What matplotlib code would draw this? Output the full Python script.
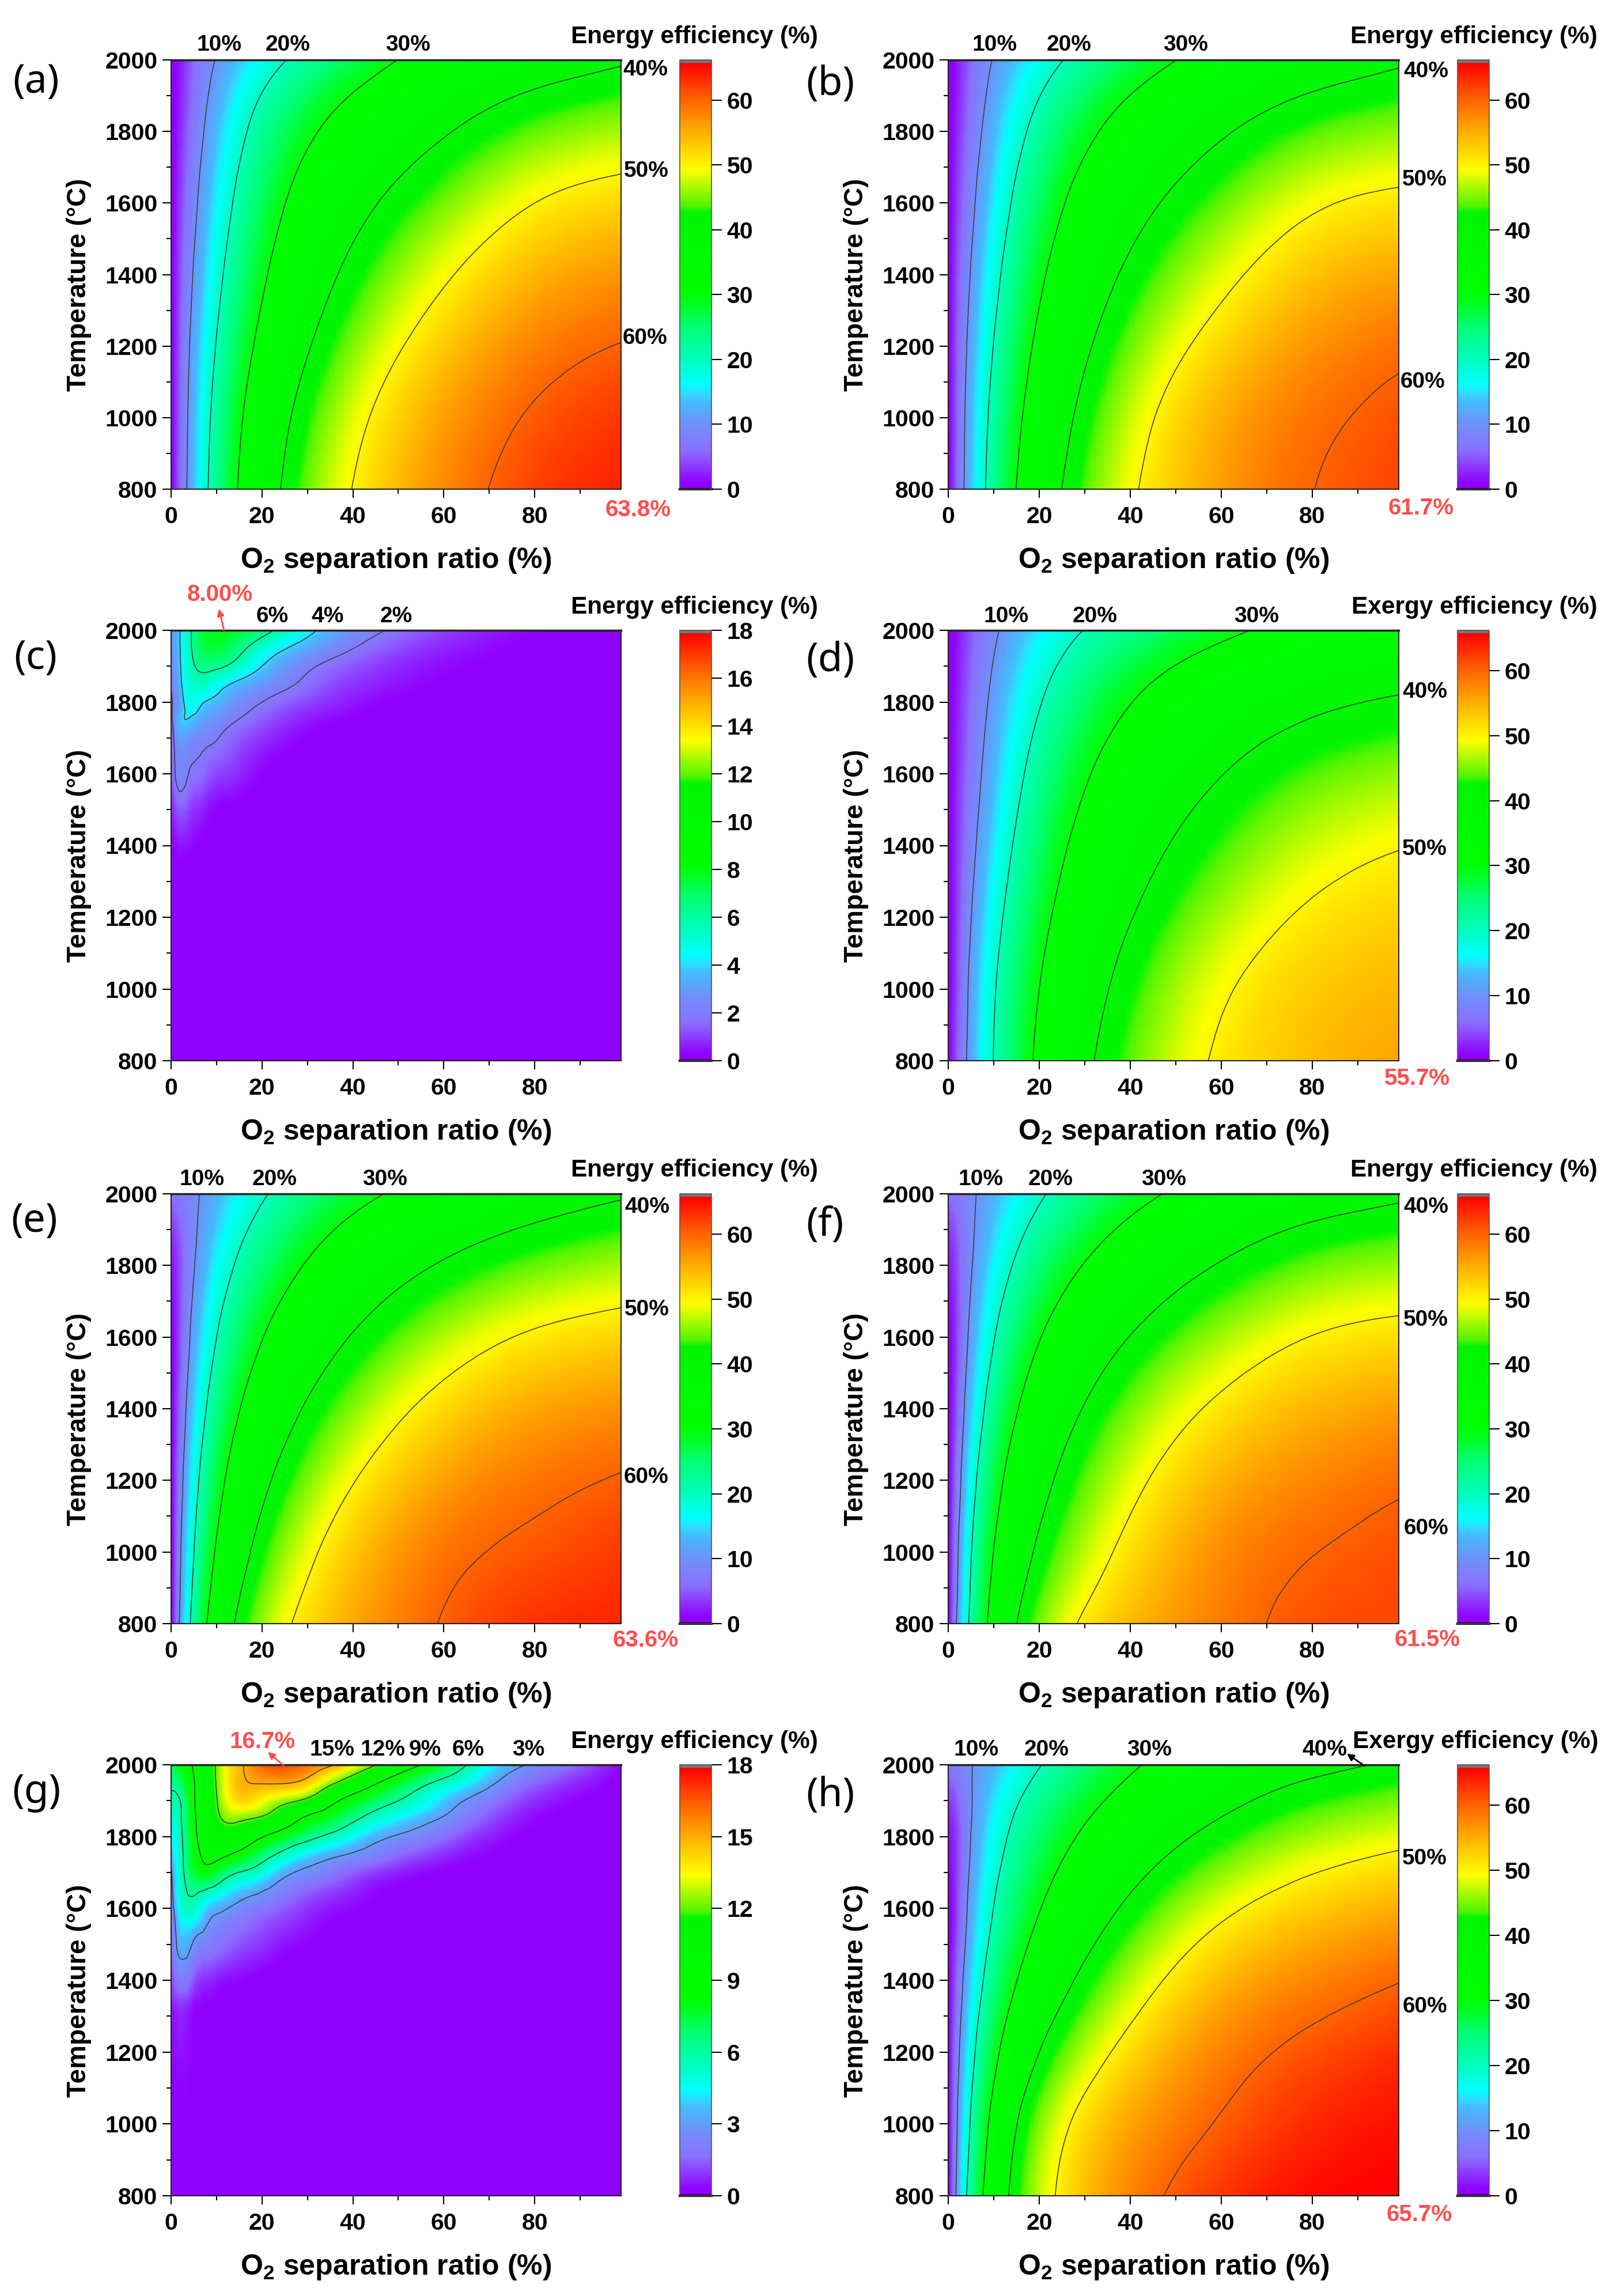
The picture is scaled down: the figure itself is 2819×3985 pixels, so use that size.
import numpy as np
from matplotlib import pyplot as plt
from matplotlib.colors import LinearSegmentedColormap, Normalize
from matplotlib.tri import Triangulation, UniformTriRefiner

plt.rcParams['font.family'] = ['Liberation Sans', 'DejaVu Sans']
plt.rcParams['mathtext.fontset'] = 'custom'
plt.rcParams['mathtext.bf'] = 'Liberation Sans:bold'
plt.rcParams['mathtext.rm'] = 'Liberation Sans:bold'

W, H = 2819, 3985

# grid of the smooth panels
x_ratio = [0, 2, 4, 7, 10, 15, 20, 25, 30, 40, 50, 60, 80, 99]
t_rows = [800, 1000, 1200, 1400, 1600, 1800, 1900, 2000]

eff_a = [
    [0, 6, 11.5, 18, 23, 30.5, 36, 41, 44.5, 50.3, 54.3, 57.5, 62, 63.8],
    [0, 5.6, 11, 17, 22, 29.3, 34.6, 39, 42.3, 48, 52, 55.7, 60.5, 62.5],
    [0, 5.2, 10.2, 15.5, 20, 26.8, 31.5, 35.8, 40, 45.8, 50.1, 53.5, 58.2, 60.3],
    [0, 4.4, 8.8, 14, 17.8, 24.2, 29.3, 33, 36.2, 41.5, 45.5, 49.3, 54, 56.5],
    [0, 3.6, 7.2, 12, 15.5, 21.7, 25.8, 30, 32.8, 37.5, 41.3, 44.3, 50.4, 52.3],
    [0, 2.8, 5.7, 10, 13, 18.5, 23, 26, 29, 33.5, 37, 40, 44.5, 46.5],
    [0, 2.5, 5, 8.8, 11.8, 16.5, 20.3, 23.3, 26, 30.3, 33.5, 36.3, 40.1, 43],
    [0, 2.2, 4.3, 7.4, 10.6, 14, 17, 20, 22.2, 26.3, 30, 33, 36.8, 39.4],
]
eff_b = [
    [0, 6, 11.5, 18, 23, 30, 35.5, 40.2, 43.8, 49.3, 53.2, 56, 60, 61.7],
    [0, 5.6, 11, 17, 21.5, 28.8, 33.8, 38, 41.3, 47.2, 51.8, 54.8, 59, 61],
    [0, 5.2, 10.2, 15.5, 20, 26.8, 31.3, 35.5, 39.7, 45.2, 49.1, 52.3, 57, 59.2],
    [0, 4.4, 8.7, 13.9, 17.6, 24, 29.2, 32.6, 35.6, 41, 45, 48.7, 53, 55.5],
    [0, 3.6, 7.2, 11.8, 15.2, 21.2, 25.5, 30, 32.5, 37.2, 41, 44, 49.6, 51.2],
    [0, 2.8, 5.6, 9.8, 12.9, 18, 22.2, 25.5, 28.9, 33, 37, 39.8, 44, 45.7],
    [0, 2.5, 5, 8.8, 11.7, 16.2, 20, 23, 25.6, 30, 33.2, 36, 39.8, 42.5],
    [0, 2.2, 4.3, 7.4, 10.6, 14, 17, 20, 22.2, 26.2, 30, 33, 36.7, 39.3],
]
exe_d = [
    [0, 5.2, 10.2, 15.5, 20.3, 26.2, 31.2, 35, 39, 44.5, 47.8, 50.4, 54.2, 55.7],
    [0, 4.6, 9.2, 14.5, 19.6, 25.5, 30, 33.3, 37, 42.5, 46.5, 49, 53, 54.3],
    [0, 4, 8, 13, 17.6, 23.6, 28.2, 31.6, 34.5, 39.8, 44, 46.5, 50.8, 52.5],
    [0, 3.3, 6.7, 11.3, 14.8, 21.3, 25.5, 29.3, 32, 37.4, 40.2, 43, 48, 50.1],
    [0, 2.9, 5.8, 10.1, 13.2, 18.1, 22.5, 26, 29.2, 33.6, 37.3, 39.8, 43.5, 45.3],
    [0, 2.4, 4.8, 8.2, 11.2, 15.6, 20.2, 23.2, 25.7, 30.5, 33.5, 36, 39, 40.8],
    [0, 2.1, 4.2, 7.3, 10.3, 14.6, 17.8, 20.3, 22.8, 26.3, 29.5, 32, 35.8, 37.7],
    [0, 1.9, 3.7, 6.5, 9.2, 12.6, 15.8, 18.2, 19.9, 23.8, 26.5, 29.1, 32.2, 34.5],
]
eff_e = [
    [0, 10.8, 19.5, 28.3, 34, 41, 45.5, 49.5, 52, 55.4, 58, 60.3, 63, 63.6],
    [0, 9, 17, 25.5, 31, 37, 42, 46, 49.2, 53.2, 56, 58.3, 61.2, 62.3],
    [0, 7.7, 15, 21.5, 27.7, 33.5, 38.3, 42, 45.3, 50.3, 53.8, 56, 59, 60.3],
    [0, 6.3, 11.5, 18.5, 23, 30, 34.3, 37.7, 40.3, 45.3, 49, 51.5, 55.3, 57],
    [0, 4.8, 9.6, 16, 20.5, 25.7, 30.2, 33, 35.5, 40.3, 44, 47, 50.8, 52.3],
    [1.5, 4.5, 8, 12.8, 16.3, 21.2, 25, 28, 30.2, 35, 38, 40.3, 44.5, 46.3],
    [3.5, 5.5, 7.7, 11, 13.8, 18, 21.8, 25, 27.7, 31.5, 34.8, 37, 40.5, 43],
    [6, 7.3, 8.6, 10.5, 13, 16.7, 19.4, 21.8, 24.2, 27.7, 30.8, 33.3, 36.9, 39.4],
]
eff_f = [
    [0, 10.8, 19, 26.2, 32.5, 40.3, 44.3, 48.5, 51, 54, 56.5, 58.6, 61.1, 61.5],
    [0, 9, 17, 25, 30.2, 36.5, 41.2, 44.5, 47.3, 51.7, 54.5, 56.8, 59.9, 61],
    [0, 7.2, 14, 21.5, 26.8, 33, 38, 41.2, 43.7, 48.5, 52.5, 55, 58, 59.7],
    [0, 5.8, 10.8, 18, 23.5, 30, 34, 37.3, 40.1, 44.8, 48.3, 50.7, 54, 55.8],
    [0, 4.5, 9, 15.5, 20.1, 25.3, 30, 33.2, 35.6, 40, 43.7, 46.5, 50.3, 51.8],
    [1.5, 4.5, 8, 12.8, 16, 21, 24.8, 27.7, 30.3, 34.6, 37.7, 40.3, 44.5, 45.8],
    [3.5, 5.5, 7.7, 11, 13.8, 18, 21.5, 24.7, 27.3, 31.3, 34.3, 37, 40.7, 42.7],
    [6, 7.3, 8.6, 10.5, 13, 16.7, 19.4, 21.7, 24, 27.7, 30.8, 33.3, 36.8, 39.1],
]
exe_h = [
    [0, 11.5, 20.3, 29, 34, 42, 47.8, 51.2, 53.8, 57.8, 60.7, 62.7, 65.2, 65.7],
    [0, 9.7, 18.3, 26, 32, 39.6, 45, 48.5, 51.3, 55.7, 58.3, 60.1, 63.7, 65],
    [0, 8, 15.7, 22.5, 27.5, 34.7, 40.5, 44.7, 47.3, 52, 55.5, 57.7, 61, 62.7],
    [0, 6, 11.7, 19.7, 24.4, 29, 34, 38.8, 42, 47.2, 51, 54, 58.3, 60.2],
    [0, 4.5, 9.1, 15.2, 20.7, 25.2, 29, 32.8, 35.2, 41.5, 45.3, 48.2, 52.8, 54.8],
    [1.5, 4.5, 8.2, 13, 17.3, 22.8, 26, 28, 30.2, 35.6, 39.5, 42.3, 46.5, 48.7],
    [3.5, 5.5, 7.8, 11.5, 14.5, 19.7, 23.7, 26, 28, 32.3, 35.5, 38.2, 42.3, 45],
    [6.5, 8, 9.5, 11.3, 13.2, 16.3, 19.9, 22.2, 24.5, 29.5, 32, 34.8, 38.5, 40.7],
]

# the two low efficiency panels have their peak at the top left
x_c = [0, 2, 4, 6, 8, 12, 20, 32, 47, 70, 99]
t_c = [800, 1300, 1500, 1600, 1700, 1750, 1800, 1850, 1900, 1950, 2000]
eff_c = [
    [0, 0, 0, 0, 0, 0, 0, 0, 0, 0, 0],
    [0.15, 0.2, 0.1, 0.05, 0, 0, 0, 0, 0, 0, 0],
    [0.6, 1.4, 1.1, 0.8, 0.5, 0.2, 0, 0, 0, 0, 0],
    [1.2, 2.4, 1.95, 1.75, 1.4, 1, 0.3, 0, 0, 0, 0],
    [1.3, 3.1, 2.8, 2.5, 2.3, 1.75, 0.9, 0.2, 0, 0, 0],
    [1.5, 3.7, 3.9, 3.4, 3, 2.4, 1.4, 0.5, 0.1, 0, 0],
    [1.8, 3.3, 4.7, 4.4, 3.9, 3.2, 2, 1, 0.3, 0, 0],
    [2.1, 3.7, 5.1, 5.4, 5.2, 4.2, 2.9, 1.5, 0.6, 0.1, 0],
    [2.4, 3.9, 5.4, 6.2, 6.4, 6, 4, 2, 0.9, 0.2, 0],
    [2.7, 4, 5.6, 6.9, 7.4, 7.2, 5.1, 3, 1.4, 0.4, 0.05],
    [3, 4, 5.6, 7, 7.7, 8, 6.6, 4, 2, 0.6, 0.1],
]
x_g = [0, 2, 5, 8, 10, 13, 16, 20, 25, 30, 36, 45, 55, 65, 78, 99]
t_g = [800, 1300, 1400, 1500, 1600, 1700, 1750, 1800, 1850, 1900, 1950, 2000]
eff_g = [
    [0, 0, 0, 0, 0, 0, 0, 0, 0, 0, 0, 0, 0, 0, 0, 0],
    [0.4, 0.7, 0.3, 0.2, 0.1, 0, 0, 0, 0, 0, 0, 0, 0, 0, 0, 0],
    [1, 2, 1.3, 0.8, 0.6, 0.4, 0.3, 0.15, 0.05, 0, 0, 0, 0, 0, 0, 0],
    [1.5, 3.5, 2.8, 2.2, 1.9, 1.5, 1.2, 0.9, 0.5, 0.3, 0.1, 0, 0, 0, 0, 0],
    [2, 4.7, 5.3, 3.9, 3.4, 2.9, 2.4, 1.9, 1.4, 0.9, 0.5, 0.2, 0, 0, 0, 0],
    [2.8, 5.2, 7.5, 8.2, 7.6, 6.4, 5.8, 4.9, 3.4, 2.6, 1.9, 1, 0.4, 0.1, 0, 0],
    [3.5, 5.4, 8, 9.6, 9.6, 9, 8.2, 6.9, 5.4, 4.2, 3.3, 2.2, 1.2, 0.5, 0.1, 0],
    [4.2, 5.6, 8.4, 10.2, 10.6, 10.8, 10.3, 9.1, 7.8, 6.6, 5.4, 3.5, 2.3, 1.1, 0.2, 0],
    [5, 5.8, 8.6, 10.5, 11.5, 12.4, 12.2, 11.7, 10.3, 8.6, 7.4, 5.2, 3.6, 2, 0.5, 0],
    [5.7, 6, 8.8, 10.6, 11.9, 13.6, 14.2, 13.5, 12.5, 11.5, 9.3, 7, 5, 2.9, 1, 0],
    [6.3, 7, 8.9, 10.8, 12.1, 14, 14.9, 15.1, 15.1, 14.4, 12.1, 9.2, 6.5, 4.5, 1.8, 0.1],
    [7, 8, 9.2, 11, 12.2, 14, 15, 16.2, 16.7, 16, 15, 12.1, 9, 6, 3, 0.3],
]

levels_main = [10, 20, 30, 40, 50, 60]
levels_d = [10, 20, 30, 40, 50]
levels_c = [2, 4, 6, 8]
levels_g = [3, 6, 9, 12, 15]
ticks_main = [0, 10, 20, 30, 40, 50, 60]
ticks_c = [0, 2, 4, 6, 8, 10, 12, 14, 16, 18]
ticks_g = [0, 3, 6, 9, 12, 15, 18]

# Origin style palette, stops are fractions of the colour bar
CMAP_MAIN = LinearSegmentedColormap.from_list('origin', [
    (0.0, '#9000ff'), (0.015, '#9000ff'), (0.09, '#8a70ff'), (0.15, '#7090fa'), (0.205, '#44bbff'),
    (0.225, '#30ddff'), (0.245, '#00ffff'), (0.30, '#00ffc0'), (0.38, '#00ff70'),
    (0.43, '#00ff20'), (0.46, '#00ff00'), (0.645, '#00f500'), (0.66, '#50f500'),
    (0.745, '#ffff00'), (0.83, '#ffb000'), (0.91, '#ff6000'), (0.993, '#ff0000'),
    (0.9935, '#777777'), (1.0, '#777777')], N=2048)


def px_axes(fig, left, top, right, bottom):
    return fig.add_axes([left / W, 1 - bottom / H, (right - left) / W, (bottom - top) / H])


def put(fig, x, y, s, size=27, color='black', weight='bold', **kw):
    fig.text(x / W, 1 - y / H, s, fontsize=size, color=color, fontweight=weight,
             ha=kw.pop('ha', 'center'), va=kw.pop('va', 'center'), **kw)


def smooth(x, t, z):
    z = np.array(z, dtype=float)
    u, v = np.meshgrid(np.sqrt(np.array(x) / 99), (np.array(t) - 1400) / 600)
    A = np.polynomial.polynomial.polyvander2d(u.ravel(), v.ravel(), (6, 4))
    coef = np.linalg.lstsq(A, z.ravel(), rcond=None)[0]
    return (A @ coef).reshape(z.shape)


def draw_panel(fig, box, x, t, z, levels, vmax, cticks, fit=True):
    left, top, right, bottom = box
    ax = px_axes(fig, left, top, right, bottom)
    xx, tt = np.meshgrid(x, t)
    nx, nt = len(x), len(t)
    tris = []
    for j in range(nt - 1):
        for i in range(nx - 1):
            a = j * nx + i
            tris.append([a, a + 1, a + nx])
            tris.append([a + 1, a + nx + 1, a + nx])
    tri = Triangulation(xx.ravel(), tt.ravel(), tris)
    zgrid = smooth(x, t, z) if fit else np.array(z, dtype=float)
    fine, zfine = UniformTriRefiner(tri).refine_field(zgrid.ravel(), subdiv=3)
    norm = Normalize(0, vmax)
    zshow = np.clip(zfine, 0, np.max(z))
    mesh = ax.tripcolor(fine, zshow, shading='gouraud', cmap=CMAP_MAIN, norm=norm, rasterized=True)
    ax.tricontour(fine, zfine, levels=levels, colors='#3a3a3a', linewidths=1.1)
    ax.set_xlim(0, 99)
    ax.set_ylim(800, 2000)
    ax.set_xticks([0, 20, 40, 60, 80])
    ax.set_xticks([10, 30, 50, 70, 90], minor=True)
    ax.set_yticks([800, 1000, 1200, 1400, 1600, 1800, 2000])
    ax.set_yticks([900, 1100, 1300, 1500, 1700, 1900], minor=True)
    ax.tick_params(which='major', length=11, width=1.5, labelsize=29.5, pad=6)
    ax.tick_params(axis='x', which='major', pad=10)
    ax.tick_params(which='minor', length=6, width=1.5)
    for lab in ax.get_xticklabels() + ax.get_yticklabels():
        lab.set_fontweight('bold')
    for sp in ax.spines.values():
        sp.set_linewidth(1.5)
        sp.set_color('#222222')
    ax.spines['top'].set_linewidth(2.5)
    put(fig, (left + right) / 2, bottom + 124, r'O$_{\mathbf{2}}$ separation ratio (%)', size=36)
    put(fig, left - 160, (top + bottom) / 2 + 18, 'Temperature (\u00b0C)', size=33, rotation=90)

    cax = px_axes(fig, right + 102, top, right + 157, bottom)
    cb = fig.colorbar(mesh, cax=cax)
    cb.set_ticks(cticks)
    cax.tick_params(length=13, width=1.5, labelsize=29.5, pad=6)
    for lab in cax.get_yticklabels():
        lab.set_fontweight('bold')
    cb.outline.set_linewidth(1.2)
    cb.outline.set_edgecolor('#555555')
    cax.axhline(0, color='black', lw=3, clip_on=False)
    return ax


def arrow(fig, x0, y0, x1, y1, color):
    fig.add_artist(plt.annotate('', xy=(x1 / W, 1 - y1 / H), xytext=(x0 / W, 1 - y0 / H),
                                xycoords='figure fraction', textcoords='figure fraction',
                                arrowprops=dict(arrowstyle='-|>', color=color, lw=1.8, mutation_scale=18,
                                                shrinkA=0, shrinkB=0)))


def main():
    fig = plt.figure(figsize=(W / 100, H / 100), dpi=100)

    rows = [(104, 849), (1094, 1841), (2072, 2818), (3063, 3811)]
    lcol = (297, 1078)
    rcol = (1646, 2428)
    vtop = 66.2

    panels = [
        (lcol, rows[0], x_ratio, t_rows, eff_a, levels_main, vtop, ticks_main, True),
        (rcol, rows[0], x_ratio, t_rows, eff_b, levels_main, vtop, ticks_main, True),
        (lcol, rows[1], x_c, t_c, eff_c, levels_c, 18, ticks_c, False),
        (rcol, rows[1], x_ratio, t_rows, exe_d, levels_d, vtop, ticks_main, True),
        (lcol, rows[2], x_ratio, t_rows, eff_e, levels_main, vtop, ticks_main, True),
        (rcol, rows[2], x_ratio, t_rows, eff_f, levels_main, vtop, ticks_main, True),
        (lcol, rows[3], x_g, t_g, eff_g, levels_g, 18, ticks_g, False),
        (rcol, rows[3], x_ratio, t_rows, exe_h, levels_main, vtop, ticks_main, True),
    ]
    for col, row, x, t, z, lev, vmax, cticks, fit in panels:
        draw_panel(fig, (col[0], row[0], col[1], row[1]), x, t, z, lev, vmax, cticks, fit)

    panel_tags = [('(a)', 63, 143), ('(b)', 1441, 147), ('(c)', 62, 1143), ('(d)', 1441, 1147),
                  ('(e)', 60, 2120), ('(f)', 1432, 2127), ('(g)', 63, 3111), ('(h)', 1441, 3117)]
    for s, x, y in panel_tags:
        fig.text(x / W, 1 - y / H, s, fontsize=50, family='Noto Sans', fontweight='medium', ha='center', va='center')

    bar_titles = [('Energy efficiency (%)', 1205, 64), ('Energy efficiency (%)', 2558, 64),
                  ('Energy efficiency (%)', 1205, 1054), ('Exergy efficiency (%)', 2559, 1054),
                  ('Energy efficiency (%)', 1205, 2031), ('Energy efficiency (%)', 2558, 2031),
                  ('Energy efficiency (%)', 1205, 3023), ('Exergy efficiency (%)', 2561, 3023)]
    for s, x, y in bar_titles:
        put(fig, x, y, s, size=30.5)

    line_tags = [
        ('10%', 380, 78), ('20%', 500, 78), ('30%', 708, 78), ('40%', 1120, 121), ('50%', 1122, 297), ('60%', 1120, 587),
        ('10%', 1726, 78), ('20%', 1856, 78), ('30%', 2058, 78), ('40%', 2475, 124), ('50%', 2473, 312), ('60%', 2469, 663),
        ('6%', 473, 1070), ('4%', 569, 1070), ('2%', 688, 1070),
        ('10%', 1747, 1070), ('20%', 1901, 1070), ('30%', 2181, 1070), ('40%', 2473, 1201), ('50%', 2473, 1474),
        ('10%', 351, 2047), ('20%', 477, 2047), ('30%', 668, 2047), ('40%', 1123, 2095), ('50%', 1123, 2273), ('60%', 1121, 2564),
        ('10%', 1703, 2047), ('20%', 1824, 2047), ('30%', 2020, 2047), ('40%', 2475, 2095), ('50%', 2475, 2291), ('60%', 2475, 2653),
        ('15%', 577, 3037), ('12%', 664, 3037), ('9%', 738, 3037), ('6%', 813, 3037), ('3%', 917, 3037),
        ('10%', 1694, 3037), ('20%', 1817, 3037), ('30%', 1995, 3037), ('40%', 2299, 3037), ('50%', 2473, 3226), ('60%', 2473, 3483),
    ]
    for s, x, y in line_tags:
        put(fig, x, y, s, size=28)

    max_tags = [('63.8%', 1108, 885), ('61.7%', 2467, 882), ('8.00%', 382, 1032), ('55.7%', 2460, 1872),
                ('63.6%', 1121, 2847), ('61.5%', 2478, 2846), ('16.7%', 456, 3023), ('65.7%', 2464, 3844)]
    for s, x, y in max_tags:
        put(fig, x, y, s, size=29, color='#ff4d4d')

    arrow(fig, 389, 1094, 380, 1057, '#ff4d4d')
    arrow(fig, 492, 3064, 465, 3041, '#ff4d4d')
    arrow(fig, 2369, 3065, 2338, 3044, 'black')

    plt.savefig('out.png', dpi=100)


if __name__ == "__main__":
    main()
